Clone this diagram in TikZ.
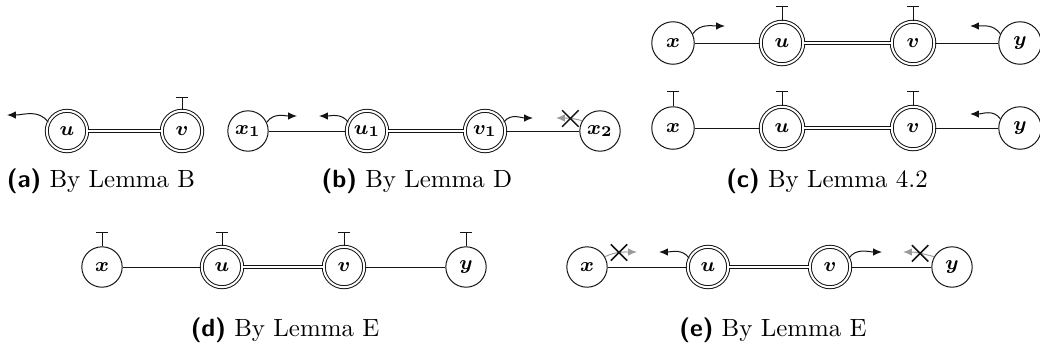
\documentclass[tikz,border=0pt]{standalone}
\usepackage{amsmath,amssymb}
\usetikzlibrary{arrows.meta,shapes.misc}
\definecolor{ink}{RGB}{20,20,20}
\definecolor{fade}{RGB}{155,155,155}
\tikzset{
  vtx/.style={circle,draw=ink,minimum size=5.7mm,inner sep=0pt,font=\footnotesize},
  dvtx/.style={vtx,double,double distance=0.8pt},
  edg/.style={draw=ink},
  dedg/.style={draw=ink,double,double distance=0.8pt},
  tee/.style={-{Bar[width=5pt]},ink},
  push/.style={-{Latex[length=3.6pt,width=3pt]},ink},
  blocked/.style={-{Latex[length=3.6pt,width=3pt]},fade},
  nogo/.style={cross out,draw=ink,semithick,minimum size=6pt,inner sep=0pt},
  subcap/.style={font=\normalsize},
}
\newcommand{\sublab}[1]{\textsf{\textbf{(#1)}}}

\begin{document}
\begin{tikzpicture}[x=0.01411cm,y=0.01411cm]
\useasboundingbox (0,0) rectangle (1040,-347);
% (a)
\node[dvtx] (a-u) at (67,-131) {$\boldsymbol{u}$};
\node[dvtx] (a-v) at (182,-131) {$\boldsymbol{v}$};
\draw[dedg] (a-u) -- (a-v);
\coordinate (a-u-p) at (7,-115);
\coordinate (a-v-t) at (182,-97);
\draw[push] (a-u.155) to[out=125,in=0] (a-u-p);
\draw[tee] (a-v) -- (a-v-t);
\node[subcap] (a-cap) at (101,-181) {\sublab{a} By Lemma B};
% (b)
\node[vtx] (b-x1) at (248,-131) {$\boldsymbol{x_1}$};
\node[dvtx] (b-u1) at (367,-131) {$\boldsymbol{u_1}$};
\node[dvtx] (b-v1) at (485,-131) {$\boldsymbol{v_1}$};
\node[vtx] (b-x2) at (600,-131) {$\boldsymbol{x_2}$};
\draw[edg] (b-x1) -- (b-u1);
\draw[dedg] (b-u1) -- (b-v1);
\draw[edg] (b-v1) -- (b-x2);
\coordinate (b-x1-p) at (297,-116);
\coordinate (b-u1-p) at (319,-116);
\coordinate (b-v1-p) at (533,-118);
\coordinate (b-x2-p) at (556,-118);
\draw[push] (b-x1.25) to[out=55,in=180] (b-x1-p);
\draw[push] (b-u1.155) to[out=125,in=0] (b-u1-p);
\draw[push] (b-v1.25) to[out=55,in=180] (b-v1-p);
\draw[blocked] (b-x2.150) to[out=165,in=0] node[nogo,pos=0.45] (b-x2-no) {} (b-x2-p);
\node[subcap] (b-cap) at (417,-181) {\sublab{b} By Lemma D};
% (c), top row
\foreach \n/\x/\s in {x/673/vtx,u/782/dvtx,v/913/dvtx,y/1020/vtx}{
  \node[\s,minimum size=6mm] (c1-\n) at (\x,-43) {$\boldsymbol{\n}$};}
\draw[edg] (c1-x) -- (c1-u);
\draw[dedg] (c1-u) -- (c1-v);
\draw[edg] (c1-v) -- (c1-y);
\foreach \n/\x in {u/782,v/913}{
  \coordinate (c1-\n-t) at (\x,-6);
  \draw[tee] (c1-\n) -- (c1-\n-t);}
\coordinate (c1-x-p) at (725,-26);
\coordinate (c1-y-p) at (970,-26);
\draw[push] (c1-x.25) to[out=55,in=180] (c1-x-p);
\draw[push] (c1-y.155) to[out=125,in=0] (c1-y-p);
% (c), bottom row
\foreach \n/\x/\s in {x/673/vtx,u/782/dvtx,v/913/dvtx,y/1020/vtx}{
  \node[\s,minimum size=6mm] (c2-\n) at (\x,-128) {$\boldsymbol{\n}$};}
\draw[edg] (c2-x) -- (c2-u);
\draw[dedg] (c2-u) -- (c2-v);
\draw[edg] (c2-v) -- (c2-y);
\foreach \n/\x in {x/673,u/782,v/913}{
  \coordinate (c2-\n-t) at (\x,-91);
  \draw[tee] (c2-\n) -- (c2-\n-t);}
\coordinate (c2-y-p) at (970,-114);
\draw[push] (c2-y.155) to[out=125,in=0] (c2-y-p);
\node[subcap] (c-cap) at (827,-181) {\sublab{c} By Lemma 4.2};
% (d)
\foreach \n/\x/\s in {x/102/vtx,u/222/dvtx,v/344/dvtx,y/466/vtx}{
  \node[\s] (d-\n) at (\x,-267) {$\boldsymbol{\n}$};
  \coordinate (d-\n-t) at (\x,-232);
  \draw[tee] (d-\n) -- (d-\n-t);}
\draw[edg] (d-x) -- (d-u);
\draw[dedg] (d-u) -- (d-v);
\draw[edg] (d-v) -- (d-y);
\node[subcap] (d-cap) at (285,-330) {\sublab{d} By Lemma E};
% (e)
\foreach \n/\x/\s in {x/587/vtx,u/708/dvtx,v/830/dvtx,y/952/vtx}{
  \node[\s] (e-\n) at (\x,-267) {$\boldsymbol{\n}$};}
\draw[edg] (e-x) -- (e-u);
\draw[dedg] (e-u) -- (e-v);
\draw[edg] (e-v) -- (e-y);
\coordinate (e-x-p) at (637,-252);
\coordinate (e-u-p) at (659,-252);
\coordinate (e-v-p) at (882,-252);
\coordinate (e-y-p) at (903,-252);
\draw[blocked] (e-x.30) to[out=25,in=180] node[nogo,pos=0.45] (e-x-no) {} (e-x-p);
\draw[push] (e-u.155) to[out=125,in=0] (e-u-p);
\draw[push] (e-v.25) to[out=55,in=180] (e-v-p);
\draw[blocked] (e-y.150) to[out=165,in=0] node[nogo,pos=0.45] (e-y-no) {} (e-y-p);
\node[subcap] (e-cap) at (773,-330) {\sublab{e} By Lemma E};
\end{tikzpicture}
\end{document}
